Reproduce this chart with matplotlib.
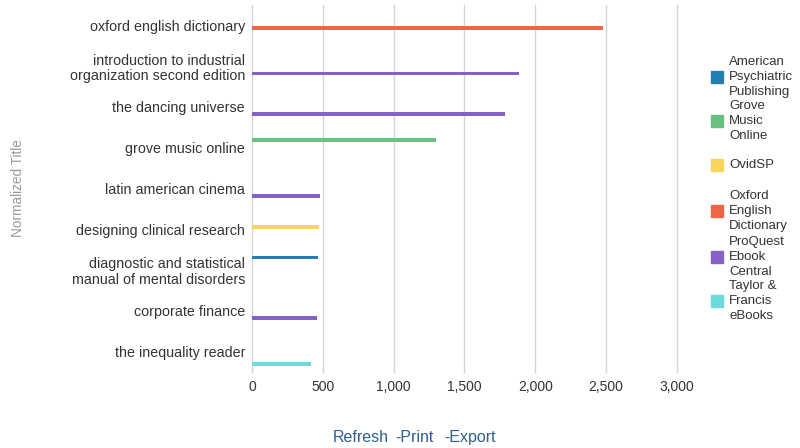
import matplotlib.pyplot as plt
from matplotlib.patches import Rectangle

plt.rcParams['font.family'] = ['Liberation Sans', 'DejaVu Sans']

# chart data
titles = ["oxford english dictionary",
          "introduction to industrial\norganization second edition",
          "the dancing universe",
          "grove music online",
          "latin american cinema",
          "designing clinical research",
          "diagnostic and statistical\nmanual of mental disorders",
          "corporate finance",
          "the inequality reader"]
sources = ["Oxford English Dictionary", "ProQuest Ebook Central", "ProQuest Ebook Central",
           "Grove Music Online", "ProQuest Ebook Central", "OvidSP",
           "American Psychiatric Publishing", "ProQuest Ebook Central", "Taylor & Francis eBooks"]
uses = [2480, 1885, 1785, 1300, 480, 473, 465, 462, 417]

series = ["American Psychiatric Publishing", "Grove Music Online", "OvidSP",
          "Oxford English Dictionary", "ProQuest Ebook Central", "Taylor & Francis eBooks"]
legend_labels = ["American\nPsychiatric\nPublishing", "Grove\nMusic\nOnline", "OvidSP",
                 "Oxford\nEnglish\nDictionary", "ProQuest\nEbook\nCentral", "Taylor &\nFrancis\neBooks"]
colors = ["#267db3", "#68c182", "#fad55c", "#ed6647", "#8561c8", "#6ddbdb"]

fig = plt.figure(figsize=(8, 4.48), dpi=100)
ax = fig.add_axes([0.315, 0.170, 0.531, 0.819])

slot = 0.122
for i, (s, c) in enumerate(zip(series, colors)):
    ys = [k + (i - 2.5) * slot for k, src in enumerate(sources) if src == s]
    vs = [v for v, src in zip(uses, sources) if src == s]
    ax.barh(ys, vs, height=0.095, color=c, zorder=3)

ax.set_ylim(len(titles) - 0.5, -0.5)
ax.set_xlim(0, 3000)
ax.set_xticks(range(0, 3001, 500))
ax.set_xticklabels([f"{v:,}" for v in range(0, 3001, 500)])
ax.set_yticks(range(len(titles)))
ax.set_yticklabels(titles, fontsize=10.3, color="#333333", linespacing=1.1)
ax.tick_params(axis='x', length=0, labelsize=10, labelcolor="#333333", pad=6)
ax.tick_params(axis='y', length=0, pad=5)
ax.grid(axis='x', color="#d4d4dc", linewidth=1, zorder=0)
for gl in ax.get_xgridlines():
    gl.set_clip_on(False)
for sp in ax.spines.values():
    sp.set_visible(False)

fig.text(0.022, 0.58, "Normalized Title", rotation=90, ha='center', va='center',
         fontsize=9.8, color="#9a9a9a")

# legend
leg_y = [77, 121, 165, 211, 257, 301]
for lab, c, yp in zip(legend_labels, colors, leg_y):
    fy = 1 - yp / 448
    fig.add_artist(Rectangle((711 / 800, fy - 6 / 448), 12 / 800, 12 / 448,
                             transform=fig.transFigure, color=c))
    fig.text(729 / 800, fy, lab, ha='left', va='center', fontsize=9.5,
             color="#333333", linespacing=1.32)

fig.text(333 / 800, 1 - 437 / 448, "Refresh", ha='left', va='center', fontsize=11.5, color="#2e5f8f")
fig.text(395 / 800, 1 - 437 / 448, "-Print", ha='left', va='center', fontsize=11.5, color="#2e5f8f")
fig.text(444 / 800, 1 - 437 / 448, "-Export", ha='left', va='center', fontsize=11.5, color="#2e5f8f")

fig.savefig("out.png", dpi=100)
